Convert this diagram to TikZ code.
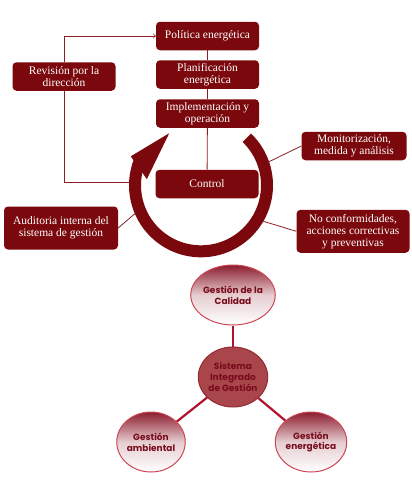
\documentclass[tikz,border=0pt]{standalone}
\usepackage{fontspec}
\setmainfont{Liberation Serif}
\newfontfamily\gothic{Poppins}
\usetikzlibrary{shapes.geometric}
\definecolor{granate}{RGB}{122,8,12}
\definecolor{lineagr}{RGB}{140,30,35}
\definecolor{carmin}{RGB}{176,20,45}
\definecolor{rosa}{RGB}{205,70,85}
\definecolor{rojomed}{RGB}{168,70,76}
\definecolor{bordemed}{RGB}{150,40,50}
\definecolor{textorojo}{RGB}{120,12,28}
\definecolor{topgrad}{RGB}{140,28,45}
\begin{document}
\begin{tikzpicture}[x=1pt,y=1pt,
    caja/.style={fill=granate, rounded corners=4pt, text=white, align=center,
      minimum width=103pt, minimum height=28.5pt, inner sep=1pt,
      font=\fontsize{11.5}{12}\selectfont},
    link/.style={draw=lineagr, line width=0.8pt},
    bolabase/.style={ellipse, line width=1pt, minimum width=64pt,
      minimum height=60pt, inner sep=0pt, align=center, text=textorojo,
      font=\gothic\bfseries\fontsize{9}{10.8}\selectfont},
    bola/.style={bolabase, draw=rosa, top color=topgrad, bottom color=white,
      middle color=topgrad!22!white},
    bolacentro/.style={bolabase, draw=bordemed, fill=rojomed},
    rama/.style={draw=carmin, line width=2.2pt}]
    \useasboundingbox (0,0) rectangle (412,-482);
    % ciclo de gestion
    \coordinate (c) at (201,-185.3);
    \draw [granate, line width=12pt] ([shift={(46:66)}]c) arc [start angle=46, end angle=-201, radius=66];
    \fill [granate] ([shift={(157.6:76)}]c) -- ([shift={(121.4:61)}]c) -- ([shift={(173.5:54.5)}]c) -- cycle;
    \coordinate (rl) at (129.5,-182.5);
    \coordinate (rm) at ([shift={(19:71)}]c);
    \coordinate (rn) at ([shift={(-30:72)}]c);
    \coordinate (ra) at ([shift={(203:71)}]c);
    \node [caja] (pol) at (207.5,-36) {Política energética};
    \node [caja] (plan) at (207.5,-74.5) {Planificación\\energética};
    \node [caja] (impl) at (207.5,-113.5) {Implementación y\\operación};
    \node [caja] (ctrl) at (207,-184) {Control};
    \node [caja] (rev) at (64,-76.5) {Revisión por la\\dirección};
    \node [caja, minimum width=105pt] (mon) at (354,-146) {Monitorización,\\medida y análisis};
    \node [caja, minimum width=114pt, minimum height=43pt] (aud) at (61,-228) {Auditoria interna del\\sistema de gestión};
    \node [caja, minimum width=113pt, minimum height=43pt] (noc) at (353,-231.3) {No conformidades,\\acciones correctivas\\y preventivas};
    \draw [link] (pol) -- (plan);
    \draw [link] (plan) -- (impl);
    \draw [link] (impl) -- (ctrl);
    \draw [link,->] (rl) -| (rev) |- (pol);
    \draw [link] (mon.west) -- (rm);
    \draw [link] (noc.west) -- (rn);
    \draw [link] (aud.east) -- (ra);
    % sistema integrado
    \node [bola] (cal) at (233,-295) {Gestión de la\\Calidad};
    \node [bola] (amb) at (151,-442) {Gestión\\ambiental};
    \node [bola] (ene) at (311,-442) {Gestión\\energética};
    \node [bolacentro] (sig) at (233,-377) {Sistema\\Integrado\\de Gestión};
    \draw [rama] (cal) -- (sig);
    \draw [rama] (sig) -- (amb);
    \draw [rama] (sig) -- (ene);
\end{tikzpicture}
\end{document}
